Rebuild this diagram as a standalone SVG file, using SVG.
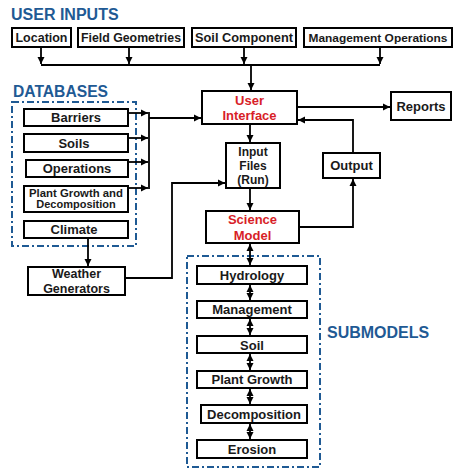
<svg xmlns="http://www.w3.org/2000/svg" width="455" height="468" viewBox="0 0 455 468">
<style>
.b{fill:#fff;stroke:#000;stroke-width:2}
.t{font-family:"Liberation Sans",Arial,sans-serif;font-weight:bold;font-size:13px;fill:#1a1a1a;text-anchor:middle}
.r{fill:#D81E28}
.h{font-family:"Liberation Sans",Arial,sans-serif;font-weight:bold;font-size:16px;fill:#1F5A94}
.l{fill:none;stroke:#000;stroke-width:1.8}
.d{fill:none;stroke:#1F5A94;stroke-width:2;stroke-dasharray:7 3 2 3}
</style>
<defs>
<marker id="a" viewBox="0 0 8 8" refX="8" refY="4" markerWidth="4" markerHeight="4" orient="auto-start-reverse" markerUnits="strokeWidth"><path d="M0,0L8,4L0,8z" fill="#000"/></marker>
</defs>
<rect width="455" height="468" fill="#fff"/>
<text class="h" x="11" y="20">USER INPUTS</text>
<text class="h" x="13" y="97" textLength="95" lengthAdjust="spacingAndGlyphs">DATABASES</text>
<text class="h" x="327" y="338">SUBMODELS</text>
<rect class="d" x="12" y="102" width="124" height="144"/>
<rect class="d" x="187" y="256" width="133" height="211"/>
<g id="connectors">
<path class="l" d="M41,47V64" marker-end="url(#a)"/>
<path class="l" d="M129,47V64" marker-end="url(#a)"/>
<path class="l" d="M244,47V64" marker-end="url(#a)"/>
<path class="l" d="M380,47V64" marker-end="url(#a)"/>
<path class="l" d="M41,65H380"/>
<path class="l" d="M251,65V90" marker-end="url(#a)"/>
<path class="l" d="M297,107H390" marker-end="url(#a)"/>
<path class="l" d="M250,124V142" marker-end="url(#a)"/>
<path class="l" d="M250,188V210" marker-end="url(#a)"/>
<path class="l" d="M353,153V120H298" marker-end="url(#a)"/>
<path class="l" d="M299,227H353V179" marker-end="url(#a)"/>
<path class="l" d="M128,113H148" marker-end="url(#a)"/>
<path class="l" d="M128,138H148" marker-end="url(#a)"/>
<path class="l" d="M128,162H148" marker-end="url(#a)"/>
<path class="l" d="M128,188H148" marker-end="url(#a)"/>
<path class="l" d="M149,112V189"/>
<path class="l" d="M149,118H201" marker-end="url(#a)"/>
<path class="l" d="M88,238V266" marker-end="url(#a)"/>
<path class="l" d="M125,278H172V183H225" marker-end="url(#a)"/>
<path class="l" d="M250,244V265" marker-start="url(#a)" marker-end="url(#a)"/>
<path class="l" d="M250,285V300" marker-start="url(#a)" marker-end="url(#a)"/>
<path class="l" d="M250,319V335" marker-start="url(#a)" marker-end="url(#a)"/>
<path class="l" d="M250,354V370" marker-start="url(#a)" marker-end="url(#a)"/>
<path class="l" d="M250,389V404" marker-start="url(#a)" marker-end="url(#a)"/>
<path class="l" d="M250,424V439" marker-start="url(#a)" marker-end="url(#a)"/>
</g>
<g id="location"><rect class="b" x="12" y="28" width="59" height="19"/><text class="t" x="41.5" y="42" textLength="52" lengthAdjust="spacingAndGlyphs">Location</text></g>
<g id="field"><rect class="b" x="78" y="28" width="106" height="19"/><text class="t" x="131" y="42" textLength="100" lengthAdjust="spacingAndGlyphs">Field Geometries</text></g>
<g id="soilcomp"><rect class="b" x="192" y="28" width="104" height="19"/><text class="t" x="244" y="42" textLength="98" lengthAdjust="spacingAndGlyphs">Soil Component</text></g>
<g id="mgmtops"><rect class="b" x="304" y="28" width="148" height="19"/><text class="t" x="378" y="42" style="font-size:11.8px" textLength="139" lengthAdjust="spacingAndGlyphs">Management Operations</text></g>
<g id="ui"><rect class="b" x="202" y="91" width="95" height="33"/><text class="t r" x="249.5" y="105">User</text><text class="t r" x="249.5" y="120">Interface</text></g>
<g id="reports"><rect class="b" x="391" y="92" width="60" height="28"/><text class="t" x="421" y="111">Reports</text></g>
<g id="input"><rect class="b" x="226" y="143" width="54" height="45"/><text class="t" x="253" y="156" style="font-size:12px">Input</text><text class="t" x="253" y="170" style="font-size:12px">Files</text><text class="t" x="253" y="184" style="font-size:12px">(Run)</text></g>
<g id="output"><rect class="b" x="323" y="153" width="57" height="25"/><text class="t" x="351.5" y="170">Output</text></g>
<g id="science"><rect class="b" x="206" y="211" width="93" height="32"/><text class="t r" x="252.5" y="224">Science</text><text class="t r" x="252.5" y="240">Model</text></g>
<g id="barriers"><rect class="b" x="24" y="109" width="104" height="17"/><text class="t" x="76" y="122">Barriers</text></g>
<g id="soils"><rect class="b" x="24" y="134" width="104" height="18"/><text class="t" x="74" y="148">Soils</text></g>
<g id="operations"><rect class="b" x="26" y="160" width="102" height="17"/><text class="t" x="77" y="173">Operations</text></g>
<g id="plant"><rect class="b" x="24" y="186" width="104" height="26"/><text class="t" x="76" y="197" style="font-size:11px" textLength="94" lengthAdjust="spacingAndGlyphs">Plant Growth and</text><text class="t" x="76" y="208" style="font-size:11px">Decomposition</text></g>
<g id="climate"><rect class="b" x="24" y="221" width="104" height="17"/><text class="t" x="74" y="234">Climate</text></g>
<g id="weather"><rect class="b" x="28" y="267" width="97" height="28"/><text class="t" x="76.5" y="278" style="font-size:12.5px">Weather</text><text class="t" x="76.5" y="292.5" style="font-size:12.5px">Generators</text></g>
<g id="hydrology"><rect class="b" x="197" y="266" width="110" height="18"/><text class="t" x="252" y="280">Hydrology</text></g>
<g id="management"><rect class="b" x="197" y="301" width="110" height="17"/><text class="t" x="252" y="314">Management</text></g>
<g id="soil"><rect class="b" x="197" y="336" width="110" height="17"/><text class="t" x="252" y="350">Soil</text></g>
<g id="plantgrowth"><rect class="b" x="197" y="371" width="110" height="17"/><text class="t" x="252" y="384">Plant Growth</text></g>
<g id="decomposition"><rect class="b" x="201" y="405" width="106" height="18"/><text class="t" x="254" y="419">Decomposition</text></g>
<g id="erosion"><rect class="b" x="197" y="440" width="110" height="18"/><text class="t" x="252" y="454">Erosion</text></g>
</svg>
